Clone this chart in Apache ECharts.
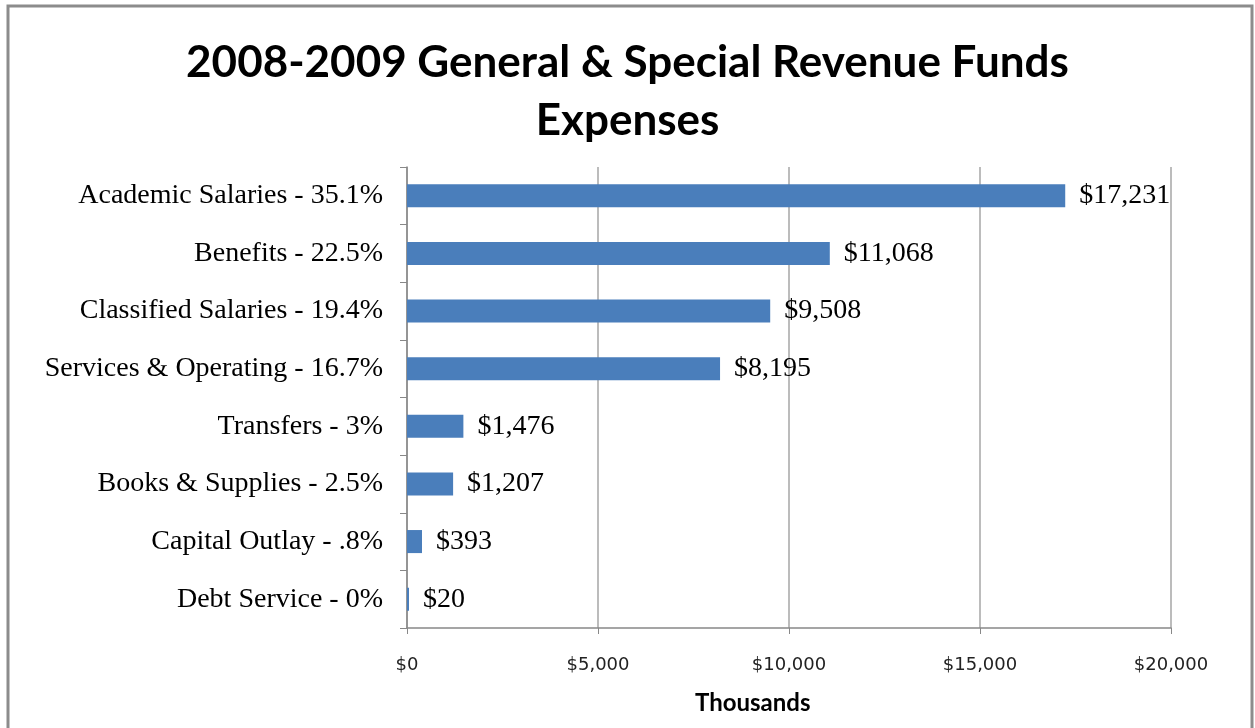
<!DOCTYPE html>
<html>
<head>
<meta charset="utf-8">
<title>2008-2009 General & Special Revenue Funds Expenses</title>
<script src="https://cdn.jsdelivr.net/npm/echarts@6/dist/echarts.min.js"></script>
<style>
  html, body { margin: 0; padding: 0; background: #fff; }
  #main { width: 1255px; height: 728px; }
</style>
</head>
<body>
<div id="main"></div>
<script>
// categories, top to bottom as in the picture
const categories = [
  'Academic Salaries - 35.1%',
  'Benefits - 22.5%',
  'Classified Salaries - 19.4%',
  'Services & Operating - 16.7%',
  'Transfers - 3%',
  'Books & Supplies - 2.5%',
  'Capital Outlay - .8%',
  'Debt Service - 0%'
];
// expenses in thousands of dollars
const expenses = [17231, 11068, 9508, 8195, 1476, 1207, 393, 20];
const xTicks = [0, 5000, 10000, 15000, 20000];

const chart = echarts.init(document.getElementById('main'));

function money(v) {
  return '$' + v.toLocaleString('en-US');
}

const option = {
  backgroundColor: '#fff',
  animation: false,
  title: {
    text: '2008-2009 General & Special Revenue Funds\nExpenses',
    left: 'center',
    top: 29,
    textStyle: {
      fontFamily: 'Lato',
      fontWeight: 'bold',
      fontSize: 44,
      lineHeight: 58,
      color: '#000'
    }
  },
  graphic: [
    {
      type: 'rect',
      shape: { x: 8, y: 6, width: 1244, height: 730 },
      style: { fill: 'none', stroke: '#8c8c8c', lineWidth: 3 }
    },
    {
      type: 'text',
      left: 695,
      top: 691,
      style: {
        text: 'Thousands',
        font: 'bold 24px Lato',
        fill: '#000'
      }
    }
  ],
  grid: {
    left: 407,
    right: 84,
    top: 167,
    bottom: 100,
    containLabel: false
  },
  xAxis: {
    type: 'value',
    min: xTicks[0],
    max: xTicks[xTicks.length - 1],
    interval: 5000,
    axisLine: { show: true, lineStyle: { color: '#888', width: 1.5 } },
    axisTick: { show: true, length: 6, lineStyle: { color: '#888' } },
    splitLine: { show: true, lineStyle: { color: '#a6a6a6', width: 1.5 } },
    axisLabel: {
      margin: 28,
      fontFamily: 'DejaVu Sans',
      fontSize: 18,
      color: '#222',
      formatter: v => money(v)
    }
  },
  yAxis: {
    type: 'category',
    data: categories,
    inverse: true,
    axisLine: { show: true, lineStyle: { color: '#888', width: 1.5 } },
    axisTick: { show: true, length: 7, lineStyle: { color: '#888' } },
    axisLabel: {
      margin: 24,
      fontFamily: 'Liberation Serif',
      fontSize: 28,
      color: '#000'
    }
  },
  series: [{
    type: 'bar',
    data: expenses,
    barCategoryGap: '60%',
    barMinHeight: 2,
    itemStyle: { color: '#4A7EBB' },
    label: {
      show: true,
      position: 'right',
      distance: 14,
      fontFamily: 'Liberation Serif',
      fontSize: 28,
      color: '#000',
      formatter: p => money(p.value)
    }
  }]
};

chart.setOption(option);
</script>
</body>
</html>
